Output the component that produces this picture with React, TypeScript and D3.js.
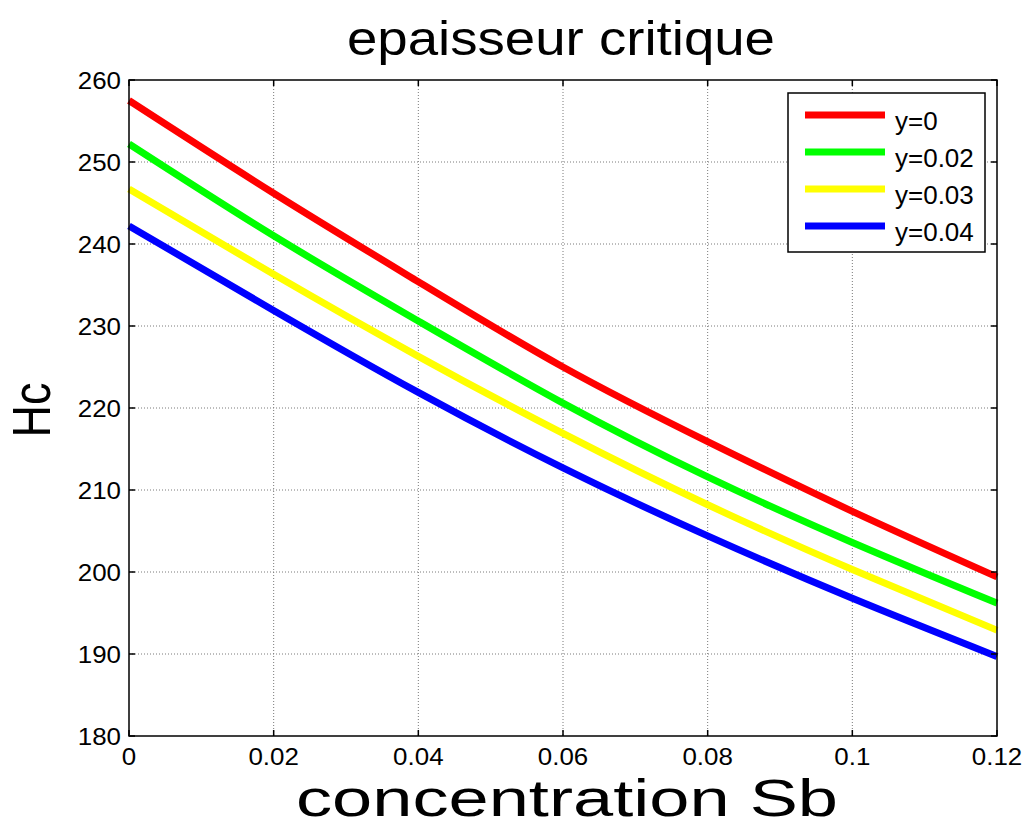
import React from "react";
import * as d3 from "d3";

const xValues = [0, 0.02, 0.04, 0.06, 0.08, 0.1, 0.12];
const seriesNames = ["y=0", "y=0.02", "y=0.03", "y=0.04"];
const seriesColors = ["#ff0000", "#00ff00", "#ffff00", "#0000ff"];
const red = [257.5, 246.2, 235.4, 225.0, 215.9, 207.4, 199.4];
const green = [252.2, 241.0, 230.6, 220.6, 211.6, 203.6, 196.2];
const yellow = [246.7, 236.3, 226.3, 216.9, 208.2, 200.3, 192.9];
const blue = [242.2, 231.9, 221.9, 212.7, 204.4, 196.8, 189.7];
const xTicks = [0, 0.02, 0.04, 0.06, 0.08, 0.1, 0.12];
const xTickLabels = ["0", "0.02", "0.04", "0.06", "0.08", "0.1", "0.12"];
const yTicks = [180, 190, 200, 210, 220, 230, 240, 250, 260];

const W = 1027, H = 829;
const L = 129, R = 997, T = 80, B = 736;
const FONT = "'Liberation Sans', Arial, Helvetica, sans-serif";

export default function App() {
  const x = d3.scaleLinear().domain([0, 0.12]).range([L, R]);
  const y = d3.scaleLinear().domain([180, 260]).range([B, T]);
  const series = [red, green, yellow, blue];
  const line = d3
    .line<number>()
    .x((_, i) => x(xValues[i]))
    .y((d) => y(d))
    .curve(d3.curveNatural);

  const tickLen = 6;
  const legX = 788, legY = 93, legW = 197, legH = 159;
  const legRows = [115, 152, 189, 226];

  return (
    <svg
      width={W}
      height={H}
      style={{ position: "absolute", left: 0, top: 0, background: "#fff" }}
      fontFamily={FONT}
    >
      <rect x={0} y={0} width={W} height={H} fill="#fff" />
      {/* grid */}
      <g stroke="#7a7a7a" strokeWidth={1} strokeDasharray="1,2">
        {xTicks.slice(1, -1).map((t) => (
          <line key={"gx" + t} x1={x(t)} x2={x(t)} y1={T} y2={B} />
        ))}
        {yTicks.slice(1, -1).map((t) => (
          <line key={"gy" + t} x1={L} x2={R} y1={y(t)} y2={y(t)} />
        ))}
      </g>
      {/* lines */}
      <g fill="none" strokeWidth={7} strokeLinejoin="round" strokeLinecap="butt">
        {series.map((s, i) => (
          <path key={seriesNames[i]} d={line(s) || ""} stroke={seriesColors[i]} />
        ))}
      </g>
      {/* axes box */}
      <rect x={L} y={T} width={R - L} height={B - T} fill="none" stroke="#000" strokeWidth={1.5} />
      {/* ticks */}
      <g stroke="#000" strokeWidth={1.5}>
        {xTicks.map((t) => (
          <g key={"tx" + t}>
            <line x1={x(t)} x2={x(t)} y1={B} y2={B - tickLen} />
            <line x1={x(t)} x2={x(t)} y1={T} y2={T + tickLen} />
          </g>
        ))}
        {yTicks.map((t) => (
          <g key={"ty" + t}>
            <line x1={L} x2={L + tickLen} y1={y(t)} y2={y(t)} />
            <line x1={R} x2={R - tickLen} y1={y(t)} y2={y(t)} />
          </g>
        ))}
      </g>
      {/* tick labels */}
      <g fontSize={24} fill="#000">
        {yTicks.map((t) => (
          <text
            key={"ly" + t}
            transform={`translate(${L - 8},${y(t) + 8.5}) scale(1.08,1)`}
            textAnchor="end"
          >
            {t}
          </text>
        ))}
        {xTicks.map((t, i) => (
          <text
            key={"lx" + t}
            transform={`translate(${x(t)},${765}) scale(1.08,1)`}
            textAnchor="middle"
          >
            {xTickLabels[i]}
          </text>
        ))}
      </g>
      {/* title */}
      <text
        x={561}
        y={55}
        fontSize={48}
        textAnchor="middle"
        textLength={428}
        lengthAdjust="spacingAndGlyphs"
      >
        epaisseur critique
      </text>
      {/* x label */}
      <text
        x={567}
        y={816}
        fontSize={52}
        textAnchor="middle"
        textLength={542}
        lengthAdjust="spacingAndGlyphs"
      >
        concentration Sb
      </text>
      {/* y label */}
      <g transform={`translate(50,410) rotate(-90) scale(1,1.18)`}>
        <text x={0} y={0} fontSize={45} textAnchor="middle">
          Hc
        </text>
      </g>
      {/* legend */}
      <rect x={legX} y={legY} width={legW} height={legH} fill="#fff" stroke="#000" strokeWidth={1.5} />
      {seriesNames.map((n, i) => (
        <g key={"leg" + n}>
          <line x1={805} x2={885} y1={legRows[i]} y2={legRows[i]} stroke={seriesColors[i]} strokeWidth={7} />
          <text x={895} y={legRows[i] + 15} fontSize={26} fill="#000">
            {n}
          </text>
        </g>
      ))}
    </svg>
  );
}
